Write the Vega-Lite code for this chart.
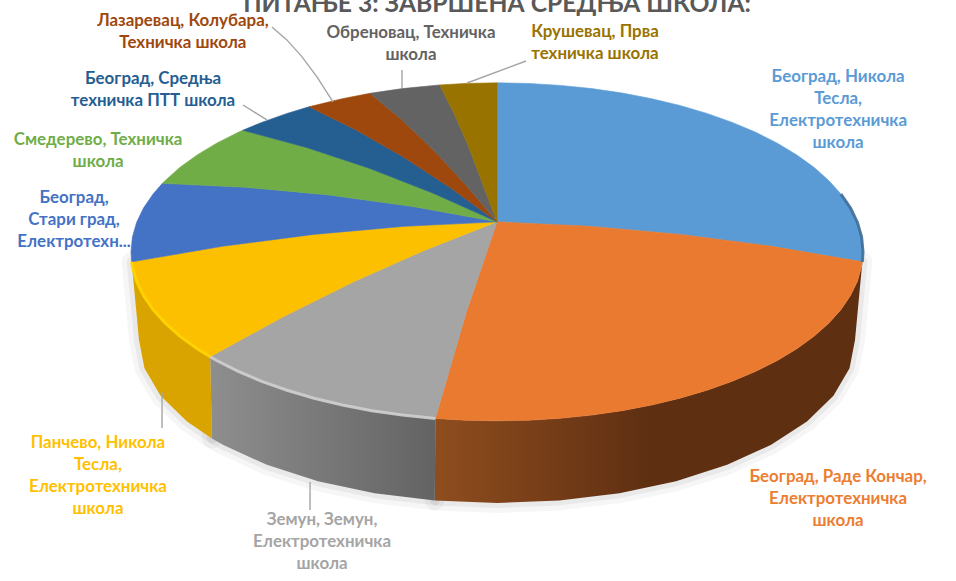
{"$schema":"https://vega.github.io/schema/vega-lite/v6.json","width":956,"height":581,"padding":0,"autosize":"none","background":"white","config":{"view":{"stroke":null},"legend":{"disable":true}},"resolve":{"scale":{"fill":"independent","stroke":"independent"}},
"projection":{"type":"orthographic","scale":1999,"rotate":[0,-27.5,0],"translate":[497,1995]},
"datasets":{"slices":[
{"slice":1,"name":"Београд, Никола Тесла, Електротехничка школа","type":"Feature","geometry":{"type":"Polygon","coordinates":[[[0,90],[180,79.45],[175,79.45],[170,79.45],[165,79.45],[160,79.45],[155,79.45],[150,79.45],[145,79.45],[140,79.45],[135,79.45],[130,79.45],[125,79.45],[120,79.45],[115,79.45],[110,79.45],[105,79.45],[100,79.45],[95,79.45],[90,79.45],[86.6,79.45],[0,90]]]}},
{"slice":2,"name":"Београд, Раде Кончар, Електротехничка школа","type":"Feature","geometry":{"type":"Polygon","coordinates":[[[0,90],[86.6,79.45],[85,79.45],[80,79.45],[75,79.45],[70,79.45],[65,79.45],[60,79.45],[55,79.45],[50,79.45],[45,79.45],[40,79.45],[35,79.45],[30,79.45],[25,79.45],[20,79.45],[15,79.45],[10,79.45],[5,79.45],[0,79.45],[-5,79.45],[-9.7,79.45],[0,90]]]}},
{"slice":3,"name":"Земун, Земун, Електротехничка школа","type":"Feature","geometry":{"type":"Polygon","coordinates":[[[0,90],[-9.7,79.45],[-15,79.45],[-20,79.45],[-25,79.45],[-30,79.45],[-35,79.45],[-40,79.45],[-45,79.45],[-50,79.45],[-51.6,79.45],[0,90]]]}},
{"slice":4,"name":"Панчево, Никола Тесла, Електротехничка школа","type":"Feature","geometry":{"type":"Polygon","coordinates":[[[0,90],[-51.6,79.45],[-55,79.45],[-60,79.45],[-65,79.45],[-70,79.45],[-75,79.45],[-80,79.45],[-85,79.45],[-86.6,79.45],[0,90]]]}},
{"slice":5,"name":"Београд, Стари град, Електротехничка школа","type":"Feature","geometry":{"type":"Polygon","coordinates":[[[0,90],[-86.6,79.45],[-90,79.45],[-95,79.45],[-100,79.45],[-105,79.45],[-110,79.45],[-113.9,79.45],[0,90]]]}},
{"slice":6,"name":"Смедерево, Техничка школа","type":"Feature","geometry":{"type":"Polygon","coordinates":[[[0,90],[-113.9,79.45],[-115,79.45],[-120,79.45],[-125,79.45],[-130,79.45],[-135,79.45],[-136,79.45],[0,90]]]}},
{"slice":7,"name":"Београд, Средња техничка ПТТ школа","type":"Feature","geometry":{"type":"Polygon","coordinates":[[[0,90],[-136,79.45],[-140,79.45],[-145,79.45],[-149.1,79.45],[0,90]]]}},
{"slice":8,"name":"Лазаревац, Колубара, Техничка школа","type":"Feature","geometry":{"type":"Polygon","coordinates":[[[0,90],[-149.1,79.45],[-155,79.45],[-159.7,79.45],[0,90]]]}},
{"slice":9,"name":"Обреновац, Техничка школа","type":"Feature","geometry":{"type":"Polygon","coordinates":[[[0,90],[-159.7,79.45],[-165,79.45],[-171,79.45],[0,90]]]}},
{"slice":10,"name":"Крушевац, Прва техничка школа","type":"Feature","geometry":{"type":"Polygon","coordinates":[[[0,90],[-171,79.45],[-175,79.45],[-180,79.45],[0,90]]]}}
],
"walls":[
{"slice":2,"type":"Feature","geometry":{"type":"Polygon","coordinates":[[[-9.7,79.45],[-5,79.45],[0,79.45],[5,79.45],[10,79.45],[15,79.45],[20,79.45],[25,79.45],[30,79.45],[35,79.45],[40,79.45],[45,79.45],[50,79.45],[55,79.45],[60,79.45],[65,79.45],[70,79.45],[75,79.45],[80,79.45],[85,79.45],[86.6,79.45],[63.54,78.46],[56.78,77.83],[49.96,77.3],[43.05,76.87],[36.04,76.52],[28.95,76.24],[21.78,76.03],[14.55,75.89],[7.29,75.81],[0,75.78],[-7.29,75.81],[-9.7,79.45]]]}},
{"slice":3,"type":"Feature","geometry":{"type":"Polygon","coordinates":[[[-51.6,79.45],[-50,79.45],[-45,79.45],[-40,79.45],[-35,79.45],[-30,79.45],[-25,79.45],[-20,79.45],[-15,79.45],[-9.7,79.45],[-7.29,75.81],[-14.55,75.89],[-21.78,76.03],[-28.95,76.24],[-36.04,76.52],[-38.01,76.61],[-51.6,79.45]]]}},
{"slice":4,"type":"Feature","geometry":{"type":"Polygon","coordinates":[[[-86.6,79.45],[-85,79.45],[-80,79.45],[-75,79.45],[-70,79.45],[-65,79.45],[-60,79.45],[-55,79.45],[-51.6,79.45],[-38.01,76.61],[-43.05,76.87],[-49.96,77.3],[-56.78,77.83],[-63.54,78.46],[-86.6,79.45]]]}}
],
"labels":[
{"slice":1,"label":"Београд, Никола\nТесла,\nЕлектротехничка\nшкола","lon":145.05,"lat":72.67},
{"slice":2,"label":"Београд, Раде Кончар,\nЕлектротехничка\nшкола","lon":39.59,"lat":74.47},
{"slice":3,"label":"Земун, Земун,\nЕлектротехничка\nшкола","lon":-19.09,"lat":74.48},
{"slice":4,"label":"Панчево, Никола\nТесла,\nЕлектротехничка\nшкола","lon":-49.29,"lat":74.73},
{"slice":5,"label":"Београд,\nСтари град,\nЕлектротехн...","lon":-109.49,"lat":77.03},
{"slice":6,"label":"Смедерево, Техничка\nшкола","lon":-126.8,"lat":75.57},
{"slice":7,"label":"Београд, Средња\nтехничка ПТТ школа","lon":-144.46,"lat":72.78},
{"slice":8,"label":"Лазаревац, Колубара,\nТехничка школа","lon":-160.5,"lat":61.92},
{"slice":9,"label":"Обреновац, Техничка\nшкола","lon":-171.49,"lat":73.09},
{"slice":10,"label":"Крушевац, Прва\nтехничка школа","lon":170.46,"lat":72.8}
],
"leaders":[
{"type":"Feature","geometry":{"type":"LineString","coordinates":[[-161.44,69.29],[-153.1,79.55]]}},
{"type":"Feature","geometry":{"type":"LineString","coordinates":[[176.27,77.1],[-175.32,79.41]]}},
{"type":"Feature","geometry":{"type":"LineString","coordinates":[[-167.21,77.61],[-165.04,79.39]]}},
{"type":"Feature","geometry":{"type":"LineString","coordinates":[[-143.31,77.72],[-141.18,79.42]]}},
{"type":"Feature","geometry":{"type":"LineString","coordinates":[[-50.45,77.45],[-44.87,76.26]]}},
{"type":"Feature","geometry":{"type":"LineString","coordinates":[[-22.64,75.94],[-20.9,74.8]]}}
],
"rims":[
{"slice":1,"type":"Feature","geometry":{"type":"LineString","coordinates":[[110,79.45],[105,79.45],[100,79.45],[95,79.45],[90,79.45],[86.6,79.45]]}},
{"slice":3,"type":"Feature","geometry":{"type":"LineString","coordinates":[[-9.7,79.45],[-15,79.45],[-20,79.45],[-25,79.45],[-30,79.45],[-35,79.45],[-40,79.45],[-45,79.45],[-50,79.45],[-51.6,79.45]]}},
{"slice":4,"type":"Feature","geometry":{"type":"LineString","coordinates":[[-51.6,79.45],[-55,79.45],[-60,79.45],[-65,79.45],[-70,79.45],[-75,79.45],[-80,79.45],[-85,79.45],[-86.6,79.45]]}}
],
"heading":[{"text":"ПИТАЊЕ 3: ЗАВРШЕНА СРЕДЊА ШКОЛА:","lon":180,"lat":69.75}]
},
"layer":[
{"data":{"name":"walls"},"mark":{"type":"geoshape","filled":false,"stroke":"#000","strokeOpacity":0.035,"strokeWidth":20,"strokeJoin":"round"}},
{"data":{"name":"walls"},"mark":{"type":"geoshape","filled":false,"stroke":"#000","strokeOpacity":0.05,"strokeWidth":10,"strokeJoin":"round"}},
{"data":{"name":"walls"},"mark":"geoshape","encoding":{"fill":{"condition":[{"test":"datum.slice==2","value":{"gradient":"linear","x1":0,"x2":1,"y1":0,"y2":0,"stops":[{"offset":0,"color":"#8f4d1e"},{"offset":0.5,"color":"#5f2f12"},{"offset":1,"color":"#5f2f12"}]}},{"test":"datum.slice==3","value":{"gradient":"linear","x1":0,"x2":1,"y1":0,"y2":0,"stops":[{"offset":0,"color":"#8e8e8e"},{"offset":1,"color":"#636363"}]}}],"value":"#d9a400"}}},
{"data":{"name":"slices"},"mark":{"type":"geoshape","strokeWidth":0.6},"encoding":{"fill":{"field":"slice","type":"nominal","legend":null,"scale":{"domain":[1,2,3,4,5,6,7,8,9,10],"range":["#5B9BD5","#EA7A30","#A5A5A5","#FCC000","#4472C4","#70AD47","#255E91","#9E480E","#636363","#997300"]}},"stroke":{"field":"slice","type":"nominal","legend":null,"scale":{"domain":[1,2,3,4,5,6,7,8,9,10],"range":["#5B9BD5","#EA7A30","#A5A5A5","#FCC000","#4472C4","#70AD47","#255E91","#9E480E","#636363","#997300"]}}}},
{"data":{"name":"rims"},"mark":{"type":"geoshape","filled":false,"strokeWidth":3,"strokeOpacity":0.9},"encoding":{"stroke":{"field":"slice","type":"nominal","legend":null,"scale":{"domain":[1,3,4],"range":["#3f6f98","#cfcfcf","#ffd500"]}}}},
{"data":{"name":"leaders"},"mark":{"type":"geoshape","filled":false,"stroke":"#a6a6a6","strokeWidth":1.4}},
{"data":{"name":"labels"},"mark":{"type":"text","font":"Lato","fontWeight":"bold","fontSize":16.9,"lineBreak":"\n","lineHeight":22,"align":"center","baseline":"middle"},"encoding":{"longitude":{"field":"lon","type":"quantitative"},"latitude":{"field":"lat","type":"quantitative"},"text":{"field":"label","type":"nominal"},"fill":{"field":"slice","type":"nominal","legend":null,"scale":{"domain":[1,2,3,4,5,6,7,8,9,10],"range":["#5B9BD5","#ED7D31","#A5A5A5","#FFC000","#4472C4","#70AD47","#255E91","#9E480E","#636363","#997300"]}}}},
{"data":{"name":"heading"},"mark":{"type":"text","font":"Lato","fontWeight":"bold","fontSize":24.7,"align":"center","baseline":"alphabetic","fill":"#595959"},"encoding":{"longitude":{"field":"lon","type":"quantitative"},"latitude":{"field":"lat","type":"quantitative"},"text":{"field":"text","type":"nominal"}}}
]}
